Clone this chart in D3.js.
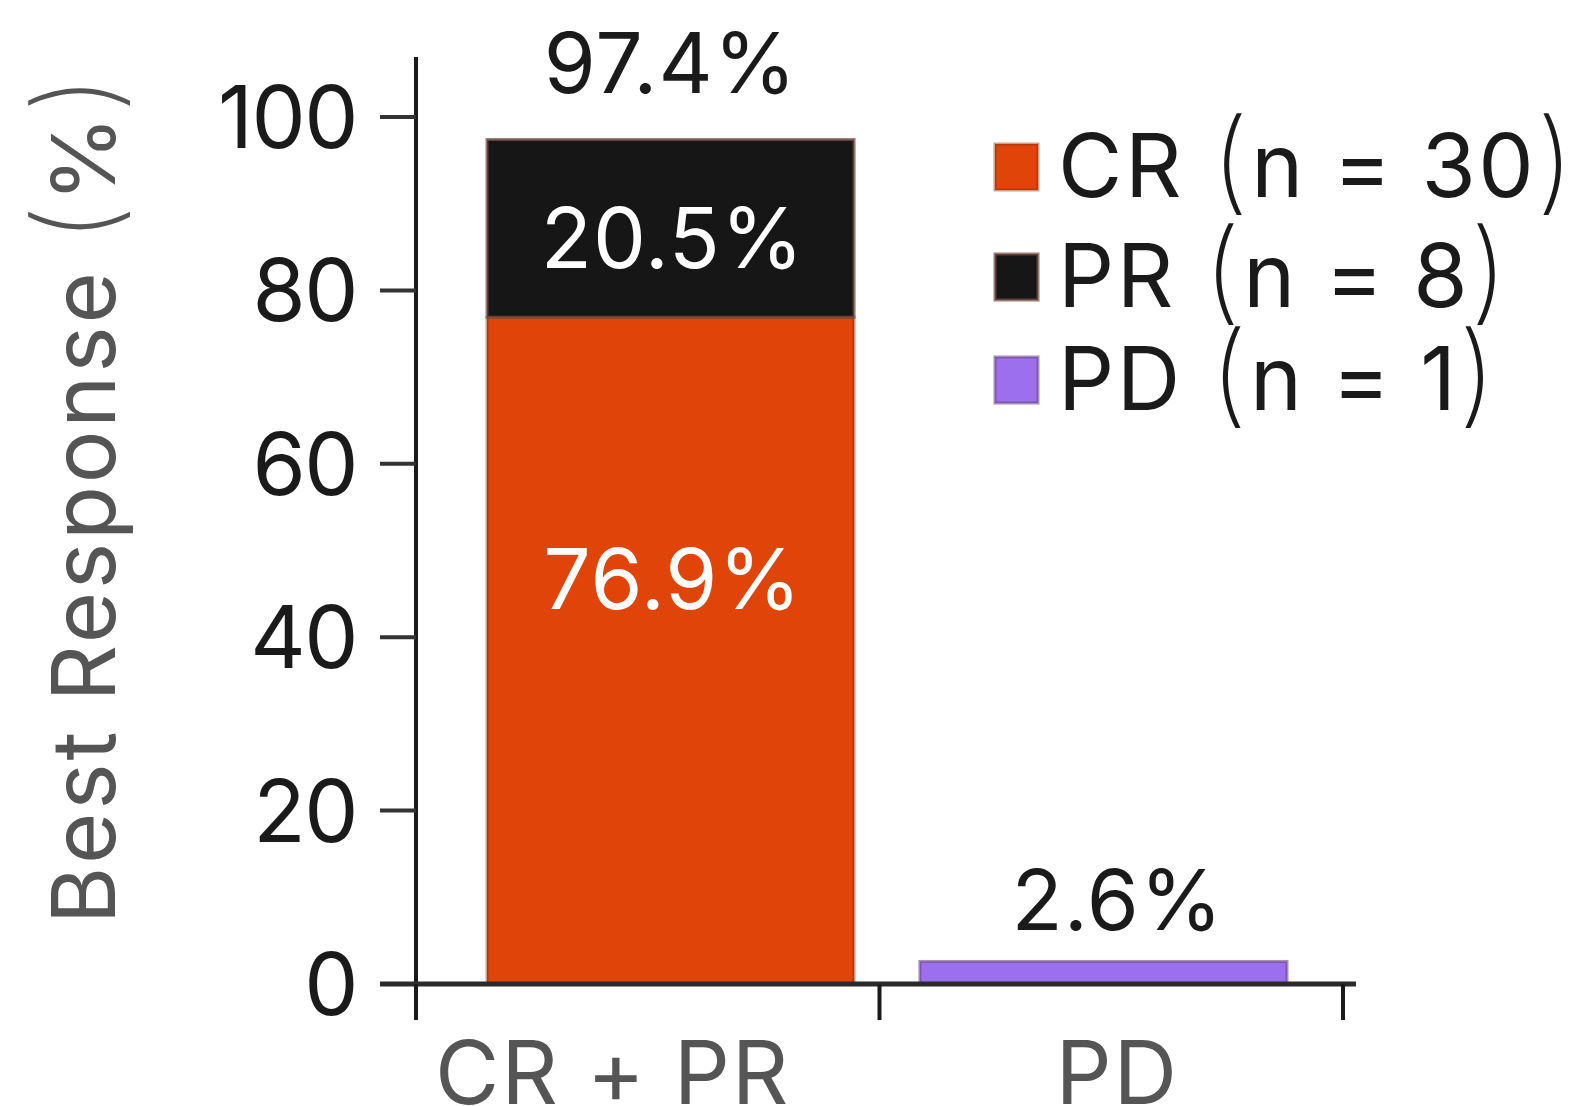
<!DOCTYPE html>
<html>
<head>
<meta charset="utf-8">
<script src="https://cdn.jsdelivr.net/npm/d3@7"></script>
<style>
  html, body { margin: 0; padding: 0; background: #fff; }
  svg { display: block; }
  text { font-family: Inter, "Noto Sans", sans-serif; }
</style>
</head>
<body>
<svg id="chart" width="1569" height="1106"></svg>
<script>
// ---- data ----
const categories = ["CR + PR", "PD"];
const seriesNames = ["CR", "PR", "PD"];
const seriesCounts = [30, 8, 1];
const crValues = [76.9, 0];
const prValues = [20.5, 0];
const pdValues = [0, 2.6];
const totalLabels = ["97.4%", "2.6%"];
const yTicks = [0, 20, 40, 60, 80, 100];
const yTitleMain = "Best Response ";
const yTitleUnit = "%";

// ---- layout / style ----
const colors = { CR: "#E04408", PR: "#161616", PD: "#9B6FEE" };
const strokes = { CR: "rgba(140,40,10,0.45)", PR: "rgba(120,80,70,0.75)", PD: "rgba(110,70,130,0.6)" };
const svg = d3.select("#chart");

const y = d3.scaleLinear().domain([0, 100]).range([984, 117]);
const xAxisScale = d3.scaleBand().domain(categories).range([416, 1343]).padding(0);
const xBar = d3.scaleBand().domain(categories).range([487, 1287]).paddingInner(0.152).paddingOuter(0);

// stacked data
const table = categories.map((c, i) => ({ cat: c, CR: crValues[i], PR: prValues[i], PD: pdValues[i] }));
const stack = d3.stack().keys(seriesNames)(table);

// bars
stack.forEach(layer => {
  svg.append("g").selectAll("rect")
    .data(layer.filter(d => d[1] - d[0] > 0))
    .join("rect")
    .attr("x", d => xBar(d.data.cat))
    .attr("width", xBar.bandwidth())
    .attr("y", d => y(d[1]))
    .attr("height", d => y(d[0]) - y(d[1]))
    .attr("fill", colors[layer.key])
    .attr("stroke", strokes[layer.key])
    .attr("stroke-width", 3);
});

// inner segment labels (vertical offset from segment middle, px)
const segShift = { CR: -72, PR: 9 };
[["CR", crValues[0]], ["PR", prValues[0]]].forEach(([key, val]) => {
  const d = stack.find(l => l.key === key)[0];
  svg.append("text")
    .attr("x", xBar(categories[0]) + xBar.bandwidth() / 2 + 2)
    .attr("y", (y(d[0]) + y(d[1])) / 2 + segShift[key])
    .attr("dy", "0.36em")
    .attr("text-anchor", "middle").attr("fill", "#fff")
    .attr("font-size", 84).attr("letter-spacing", 1).text(val.toFixed(1) + "%");
});

// total labels
const totalShift = [-47, -31];
const totalDx = [0, 14];
categories.forEach((c, i) => {
  const top = crValues[i] + prValues[i] + pdValues[i];
  svg.append("text")
    .attr("x", xBar(c) + xBar.bandwidth() / 2 + totalDx[i])
    .attr("y", y(top) + totalShift[i])
    .attr("text-anchor", "middle").attr("fill", "#1a1a1a")
    .attr("font-size", 84).attr("letter-spacing", 1).text(totalLabels[i]);
});

// y axis
const yAxisG = svg.append("g");
yAxisG.append("line").attr("x1", 416).attr("x2", 416).attr("y1", 57).attr("y2", 1020)
  .attr("stroke", "#1a1a1a").attr("stroke-width", 4);
yAxisG.selectAll("line.tick").data(yTicks).join("line").attr("class", "tick")
  .attr("x1", 380).attr("x2", 416).attr("y1", d => y(d)).attr("y2", d => y(d))
  .attr("stroke", "#333").attr("stroke-width", 4);
yAxisG.selectAll("text").data(yTicks).join("text")
  .attr("x", 357).attr("y", d => y(d)).attr("dy", "0.36em")
  .attr("text-anchor", "end").attr("fill", "#1a1a1a").attr("font-size", 86)
  .attr("letter-spacing", -1.5)
  .text(d => d);

// y title (with tall thin parentheses)
const title = svg.append("text")
  .attr("transform", `translate(115, ${(88 + 913) / 2 - 2}) rotate(-90)`)
  .attr("text-anchor", "middle").attr("fill", "#555").attr("font-size", 88)
  .attr("letter-spacing", 2.8);
title.append("tspan").text(yTitleMain);
title.append("tspan").attr("font-size", 112).attr("font-weight", 200).attr("dy", 0).text("(");
title.append("tspan").text(yTitleUnit);
title.append("tspan").attr("font-size", 112).attr("font-weight", 200).text(")");

// x axis
const xAxisG = svg.append("g");
xAxisG.append("line").attr("x1", 380).attr("x2", 1356).attr("y1", 984).attr("y2", 984)
  .attr("stroke", "#2a2a2a").attr("stroke-width", 5);
const xTickPos = categories.map(c => xAxisScale(c)).concat([xAxisScale.range()[1]]);
xAxisG.selectAll("line.tick").data(xTickPos).join("line").attr("class", "tick")
  .attr("x1", d => d).attr("x2", d => d).attr("y1", 984).attr("y2", 1020)
  .attr("stroke", "#1a1a1a").attr("stroke-width", 4);
const catLabelShift = [-35, 6];
xAxisG.selectAll("text").data(categories).join("text")
  .attr("x", (c, i) => xAxisScale(c) + xAxisScale.bandwidth() / 2 + catLabelShift[i])
  .attr("y", 1104)
  .attr("text-anchor", "middle").attr("fill", "#555").attr("font-size", 88)
  .attr("letter-spacing", 2)
  .text(c => c);

// legend
const legend = svg.append("g");
const legendBaselines = [197, 307, 410];
seriesNames.forEach((s, i) => {
  const base = legendBaselines[i];
  legend.append("rect").attr("x", 995).attr("y", base - 53).attr("width", 43).attr("height", 46)
    .attr("fill", colors[s]).attr("stroke", strokes[s]).attr("stroke-width", 3);
  const t = legend.append("text").attr("x", 1058).attr("y", base)
    .attr("fill", "#1a1a1a").attr("font-size", 88).attr("letter-spacing", 2.6);
  t.append("tspan").text(`${s} `);
  t.append("tspan").attr("font-size", 112).attr("font-weight", 200).attr("dy", 3).text("(");
  t.append("tspan").attr("dy", -3).text(`n = ${seriesCounts[i]}`);
  t.append("tspan").attr("font-size", 112).attr("font-weight", 200).attr("dy", 3).text(")");
});
</script>
</body>
</html>
